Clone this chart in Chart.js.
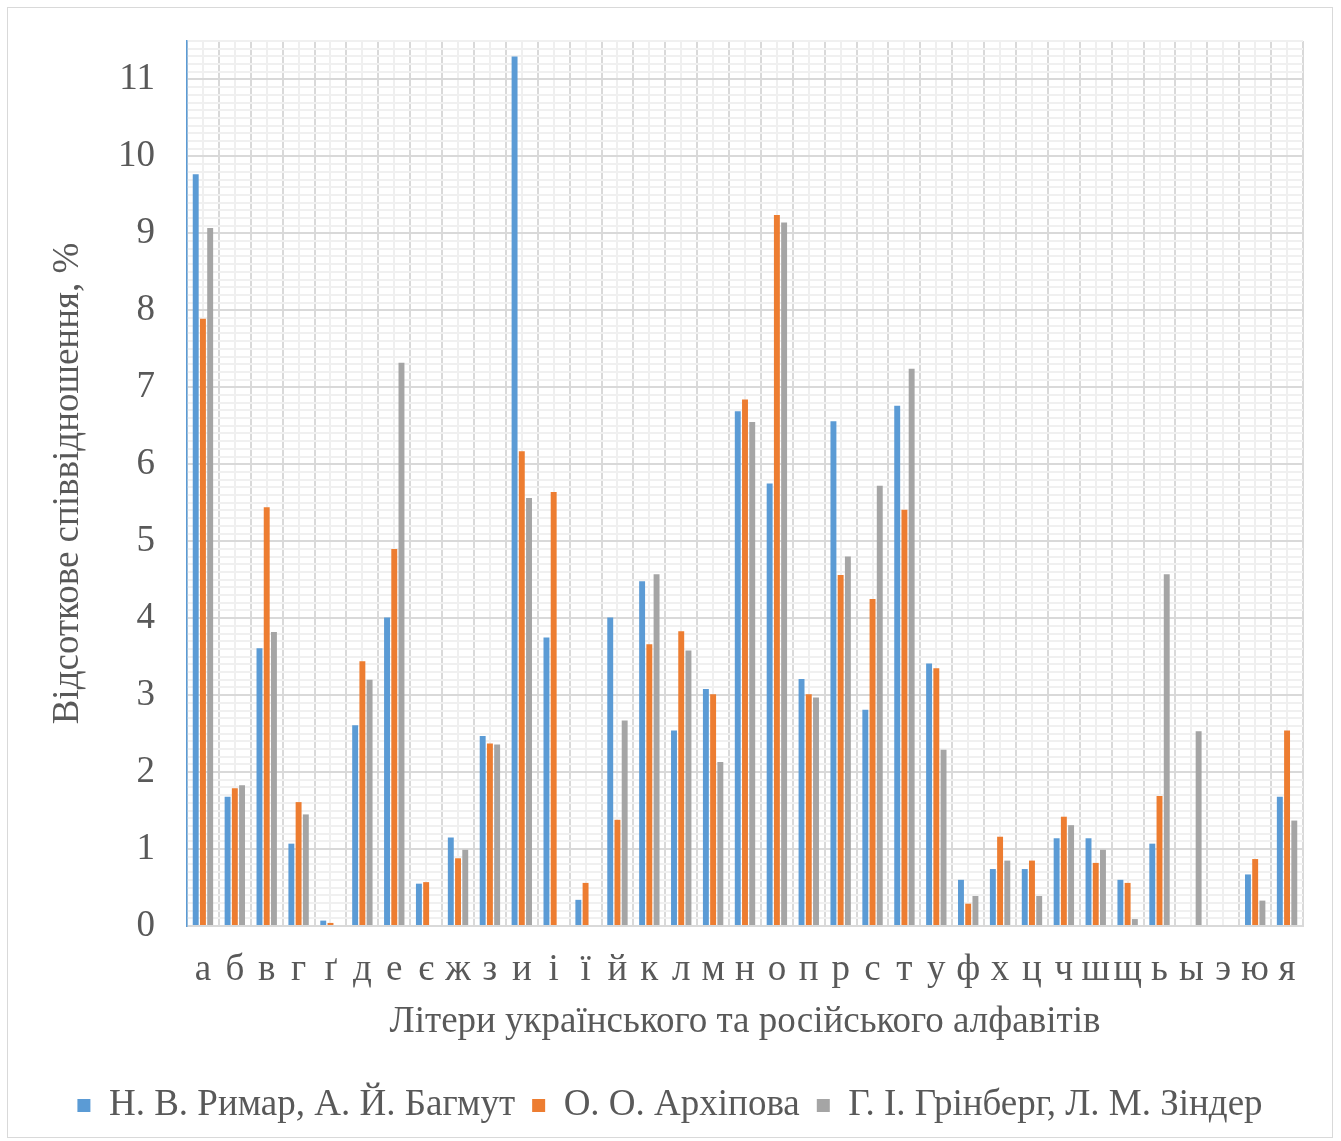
<!DOCTYPE html>
<html lang="uk">
<head>
<meta charset="utf-8">
<title>Відсоткове співвідношення літер</title>
<script src="https://cdn.jsdelivr.net/npm/chart.js@4/dist/chart.umd.min.js"></script>
<style>
  html, body { margin: 0; padding: 0; background: #fff; }
  #frame {
    position: absolute; left: 7px; top: 7px;
    width: 1324px; height: 1129px;
    border: 1px solid #d9d9d9;
  }
  #letterChart { display: block; }
</style>
</head>
<body>
<div id="frame"><canvas id="letterChart" width="1324" height="1129"></canvas></div>
<script>
// літери українського та російського алфавітів
const letters = ["а", "б", "в", "г", "ґ", "д", "е", "є", "ж", "з", "и", "і", "ї", "й", "к", "л", "м", "н", "о",
  "п", "р", "с", "т", "у", "ф", "х", "ц", "ч", "ш", "щ", "ь", "ы", "э", "ю", "я"];

// відсоткове співвідношення, %
const rymarBahmut = [9.77, 1.68, 3.61, 1.07, 0.07, 2.61, 4.01, 0.55, 1.15, 2.47, 11.30, 3.75, 0.34, 4.01, 4.48, 2.54, 3.08, 6.69, 5.75,
  3.21, 6.56, 2.81, 6.76, 3.41, 0.60, 0.74, 0.74, 1.14, 1.14, 0.60, 1.07, 0, 0, 0.67, 1.68];
const arkhipova = [7.89, 1.79, 5.44, 1.61, 0.04, 3.44, 4.90, 0.57, 0.88, 2.37, 6.17, 5.64, 0.56, 1.38, 3.66, 3.83, 3.01, 6.84, 9.24,
  3.01, 4.56, 4.25, 5.41, 3.35, 0.29, 1.16, 0.85, 1.42, 0.82, 0.56, 1.69, 0, 0, 0.87, 2.54];
const grinbergZinder = [9.07, 1.83, 3.82, 1.45, 0, 3.20, 7.32, 0, 0.99, 2.36, 5.56, 0, 0, 2.67, 4.57, 3.58, 2.13, 6.55, 9.14,
  2.97, 4.80, 5.72, 7.24, 2.29, 0.39, 0.85, 0.39, 1.31, 0.99, 0.09, 4.57, 2.53, 0, 0.33, 1.37];

const seriesNames = ["Н. В. Римар, А. Й. Багмут", "О. О. Архіпова", "Г. І. Грінберг, Л. М. Зіндер"];
const yMax = 11.5;
const yStep = 0.1;

const FONT = "'Liberation Serif', 'Times New Roman', serif";
const TEXT = "#595959";

// основні лінії сітки на цілих значеннях, допоміжні - через 0.1
function isWhole(v) {
  return Math.abs(v - Math.round(v)) < 1e-6;
}

const barStyle = {
  categoryPercentage: 0.68,
  barPercentage: 0.82,
  borderWidth: 0,
};

const data = {
  labels: letters,
  datasets: [
    { label: seriesNames[0], data: rymarBahmut, backgroundColor: "#5B9BD5", ...barStyle },
    { label: seriesNames[1], data: arkhipova, backgroundColor: "#ED7D31", ...barStyle },
    { label: seriesNames[2], data: grinbergZinder, backgroundColor: "#A5A5A5", ...barStyle },
  ],
};

const config = {
  type: "bar",
  data: data,
  options: {
    responsive: false,
    animation: false,
    layout: { padding: { left: 0, right: 0, top: 33, bottom: 3 } },
    plugins: {
      tooltip: { enabled: false },
      legend: {
        position: "bottom",
        labels: {
          color: TEXT,
          font: { family: FONT, size: 37 },
          boxWidth: 13,
          boxHeight: 13,
          padding: 17,
        },
      },
    },
    scales: {
      x: {
        type: "category",
        offset: true,
        grid: { offset: true, color: "#d9d9d9", lineWidth: 2, drawTicks: false },
        border: { color: "#d9d9d9", width: 2 },
        ticks: {
          color: TEXT,
          font: { family: FONT, size: 37 },
          autoSkip: false,
          maxRotation: 0,
          padding: 22,
        },
        title: {
          display: true,
          text: "Літери українського та російського алфавітів",
          color: TEXT,
          font: { family: FONT, size: 37 },
          padding: { top: 0, bottom: 26 },
        },
        afterFit: (scale) => { scale.height = 144; },
      },
      // допоміжні вертикальні лінії посередині кожної літери
      xMinor: {
        type: "category",
        position: "top",
        offset: true,
        grid: { offset: false, color: "#efefef", lineWidth: 2, drawTicks: false },
        border: { display: false },
        ticks: { display: false },
        afterFit: (scale) => { scale.height = 0; },
      },
      y: {
        min: 0,
        max: yMax,
        grid: {
          color: (ctx) => (isWhole(ctx.tick.value) ? "#d9d9d9" : "#f0f0f0"),
          lineWidth: 2,
          drawTicks: false,
        },
        border: { color: "#5B9BD5", width: 1.5 },
        ticks: {
          stepSize: yStep,
          autoSkip: false,
          color: TEXT,
          font: { family: FONT, size: 37 },
          padding: 32,
          callback: (v) => (isWhole(v) ? String(Math.round(v)) : ""),
        },
        title: {
          display: true,
          text: "Відсоткове співвідношення, %",
          color: TEXT,
          font: { family: FONT, size: 37 },
          padding: { top: 38, bottom: 0 },
        },
        afterFit: (scale) => {
          scale.width = 179;
          scale.paddingTop = 0;
          scale.paddingBottom = 0;
        },
      },
      // порожня права вісь - відступ від правого краю
      yRight: {
        position: "right",
        min: 0,
        max: yMax,
        grid: { display: false },
        border: { display: false },
        ticks: { display: false },
        afterFit: (scale) => {
          scale.width = 29;
          scale.paddingTop = 0;
          scale.paddingBottom = 0;
        },
      },
    },
  },
};

new Chart(document.getElementById("letterChart"), config);
</script>
</body>
</html>
